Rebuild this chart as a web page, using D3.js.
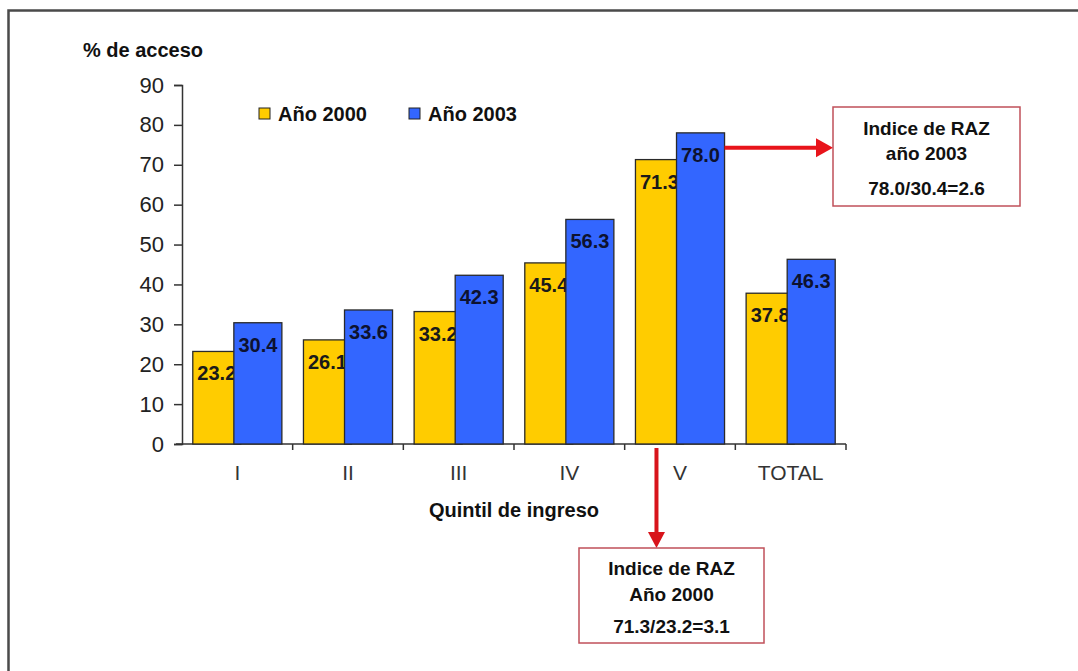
<!DOCTYPE html>
<html>
<head>
<meta charset="utf-8">
<script src="https://cdn.jsdelivr.net/npm/d3@7"></script>
<style>
  html, body { margin: 0; padding: 0; background: #fff; }
  svg { display: block; }
  text { font-family: "Liberation Sans", Arial, sans-serif; }
</style>
</head>
<body>
<svg id="chart" width="1078" height="671"></svg>
<script>
const categories = ["I", "II", "III", "IV", "V", "TOTAL"];
const seriesNames = ["Año 2000", "Año 2003"];
const values2000 = [23.2, 26.1, 33.2, 45.4, 71.3, 37.8];
const values2003 = [30.4, 33.6, 42.3, 56.3, 78.0, 46.3];
const yTicks = [0, 10, 20, 30, 40, 50, 60, 70, 80, 90];
const colors = ["#FFCC00", "#3366FF"];
const yTitle = "% de acceso";
const xTitle = "Quintil de ingreso";
const note2003 = ["Indice de RAZ", "año 2003", "78.0/30.4=2.6"];
const note2000 = ["Indice de RAZ", "Año 2000", "71.3/23.2=3.1"];

const svg = d3.select("#chart");

// outer frame (top and left visible)
svg.append("path")
  .attr("d", "M8.5,671 V10.5 H1078")
  .attr("fill", "none").attr("stroke", "#4a4a4a").attr("stroke-width", 2.5);

const x = d3.scaleBand().domain(categories).range([182, 846]).padding(0);
const y = d3.scaleLinear().domain([0, 90]).range([444, 85]);

const bw = x.bandwidth();
const barW = bw * 0.434;
const overlap = bw * 0.063;
const groupW = 2 * barW - overlap;
const pad = (bw - groupW) / 2;

// Y axis
const yAxis = d3.axisLeft(y).tickValues(yTicks).tickSize(8).tickPadding(10);
const gy = svg.append("g").attr("transform", "translate(182,0)").call(yAxis);
gy.select(".domain").attr("stroke", "#333").attr("stroke-width", 1.5);
gy.selectAll(".tick line").attr("stroke", "#333").attr("stroke-width", 1.5);
gy.selectAll(".tick text").attr("font-size", 22).attr("fill", "#222")
  .style("font-family", "'Liberation Sans', Arial, sans-serif");

// X axis (ticks at category boundaries)
svg.append("line").attr("x1", 176).attr("x2", 846).attr("y1", y(0)).attr("y2", y(0))
  .attr("stroke", "#333").attr("stroke-width", 1.5);
const bounds = categories.map(c => x(c)).concat([x(categories[categories.length - 1]) + bw]);
svg.selectAll(".xtick").data(bounds.slice(1)).join("line")
  .attr("x1", d => d).attr("x2", d => d)
  .attr("y1", y(0)).attr("y2", y(0) + 6)
  .attr("stroke", "#333").attr("stroke-width", 1.5);
svg.selectAll(".xlab").data(categories).join("text")
  .attr("x", d => x(d) + bw / 2).attr("y", 480)
  .attr("text-anchor", "middle").attr("font-size", 21).attr("fill", "#333")
  .text(d => d);

// Bars 2000
svg.selectAll(".b0").data(values2000).join("rect")
  .attr("x", (d, i) => x(categories[i]) + pad)
  .attr("y", d => y(d)).attr("width", barW).attr("height", d => y(0) - y(d))
  .attr("fill", colors[0]).attr("stroke", "#2a2a2a").attr("stroke-width", 1.3);
svg.selectAll(".l0").data(values2000).join("text")
  .attr("x", (d, i) => x(categories[i]) + pad + barW / 2)
  .attr("y", d => y(d) + 29)
  .attr("text-anchor", "middle").attr("font-size", 20).attr("font-weight", "bold")
  .attr("fill", "#1a1a1a").text(d => d.toFixed(1));

// Bars 2003
svg.selectAll(".b1").data(values2003).join("rect")
  .attr("x", (d, i) => x(categories[i]) + pad + barW - overlap)
  .attr("y", d => y(d)).attr("width", barW).attr("height", d => y(0) - y(d))
  .attr("fill", colors[1]).attr("stroke", "#2a2a2a").attr("stroke-width", 1.3);
svg.selectAll(".l1").data(values2003).join("text")
  .attr("x", (d, i) => x(categories[i]) + pad + barW - overlap + barW / 2)
  .attr("y", d => y(d) + 29)
  .attr("text-anchor", "middle").attr("font-size", 20).attr("font-weight", "bold")
  .attr("fill", "#0d1230").text(d => d.toFixed(1));

// Titles
svg.append("text").attr("x", 83).attr("y", 57).attr("font-size", 20).attr("font-weight", "bold")
  .attr("fill", "#111").text(yTitle);
svg.append("text").attr("x", 514).attr("y", 517).attr("text-anchor", "middle")
  .attr("font-size", 20).attr("font-weight", "bold").attr("fill", "#111").text(xTitle);

// Legend
const legX = [259, 409];
seriesNames.forEach((n, i) => {
  svg.append("rect").attr("x", legX[i]).attr("y", 108).attr("width", 11).attr("height", 11)
    .attr("fill", colors[i]).attr("stroke", "#222").attr("stroke-width", 1);
  svg.append("text").attr("x", legX[i] + 19).attr("y", 121).attr("font-size", 20)
    .attr("font-weight", "bold").attr("fill", "#111").text(n);
});

// Annotation 2003: arrow from V blue bar to box
const arrowColor = "#E8141B";
const vBlueRight = x("V") + pad + 2 * barW - overlap;
const ay = y(74.3);
const box1 = {x: 833, y: 107, w: 187, h: 99};
svg.append("line").attr("x1", vBlueRight).attr("x2", box1.x - 16).attr("y1", ay).attr("y2", ay)
  .attr("stroke", arrowColor).attr("stroke-width", 4);
svg.append("path")
  .attr("d", `M${box1.x},${ay} L${box1.x - 17},${ay - 9.5} L${box1.x - 17},${ay + 9.5} Z`)
  .attr("fill", arrowColor);
svg.append("rect").attr("x", box1.x).attr("y", box1.y).attr("width", box1.w).attr("height", box1.h)
  .attr("fill", "#fff").attr("stroke", "#C0505A").attr("stroke-width", 1.5);
[135, 160, 195].forEach((yy, i) => {
  svg.append("text").attr("x", box1.x + box1.w / 2).attr("y", yy).attr("text-anchor", "middle")
    .attr("font-size", 19).attr("font-weight", "bold").attr("fill", "#111").text(note2003[i]);
});

// Annotation 2000: arrow down from V to box
const ax = x("V") + pad + barW / 2 - 3;
const box2 = {x: 579, y: 548, w: 185, h: 95};
svg.append("line").attr("x1", ax).attr("x2", ax).attr("y1", 448).attr("y2", box2.y - 15)
  .attr("stroke", "#D8141B").attr("stroke-width", 4);
svg.append("path")
  .attr("d", `M${ax},${box2.y} L${ax - 8.5},${box2.y - 16} L${ax + 8.5},${box2.y - 16} Z`)
  .attr("fill", "#D8141B");
svg.append("rect").attr("x", box2.x).attr("y", box2.y).attr("width", box2.w).attr("height", box2.h)
  .attr("fill", "#fff").attr("stroke", "#C0505A").attr("stroke-width", 1.5);
[575, 601, 633].forEach((yy, i) => {
  svg.append("text").attr("x", box2.x + box2.w / 2).attr("y", yy).attr("text-anchor", "middle")
    .attr("font-size", 19).attr("font-weight", "bold").attr("fill", "#111").text(note2000[i]);
});
</script>
</body>
</html>
